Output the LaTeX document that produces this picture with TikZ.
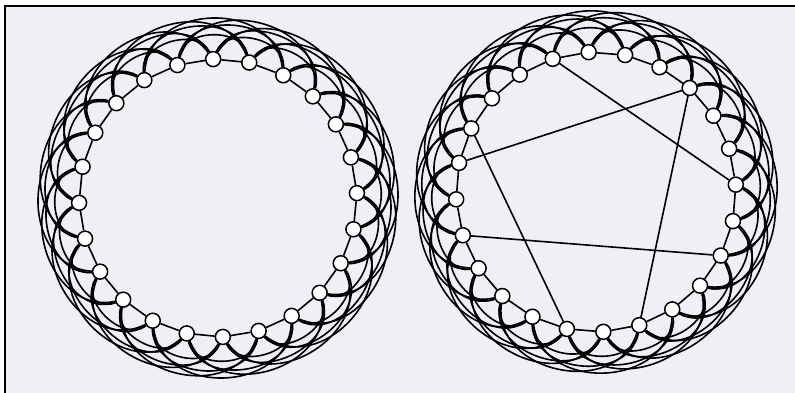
\documentclass[tikz,border=0pt]{standalone}
\usetikzlibrary{backgrounds}
\definecolor{paper}{RGB}{239,239,246}
\begin{document}
\begin{tikzpicture}[x=1pt,y=1pt,
  vtx/.style={circle,draw,fill=white,line width=1.5pt,minimum size=15pt,inner sep=0pt},
  ring/.style={line width=1.6pt},
  chord/.style={line width=1.6pt},
  frameline/.style={line width=2pt}]
\useasboundingbox (0,0) rectangle (795,393);
% vertices
\foreach \j in {0,...,23}{
  \node[vtx] (L\j) at ([shift={(218,195)}]{92-15*\j}:139) {};
  \node[vtx] (R\j) at ([shift={(596,201)}]{108-15*\j}:140) {};
}
\begin{scope}[on background layer]
\fill[paper] (5,0) rectangle (795,387);
\draw[frameline] (5,0) -- (5,387) -- (795,387);
\foreach \j in {0,...,23}{
  \pgfmathtruncatemacro\a{mod(\j+1,24)}
  \pgfmathtruncatemacro\b{mod(\j+2,24)}
  \pgfmathtruncatemacro\c{mod(\j+3,24)}
  \pgfmathtruncatemacro\d{mod(\j+4,24)}
  \foreach \g in {L,R}{
    \draw[ring] (\g\j) -- (\g\a);
    \draw[ring] (\g\j) to[bend left=80,looseness=1.05] (\g\b);
    \draw[ring] (\g\j) to[bend left=85,looseness=1.2] (\g\c);
    \draw[ring] (\g\j) to[bend left=85,looseness=1.28] (\g\d);
  }
}
\draw[chord] (R0) -- (R7);
\draw[chord] (R4) -- (R20);
\draw[chord] (R4) -- (R12);
\draw[chord] (R21) -- (R14);
\draw[chord] (R18) -- (R9);
\end{scope}
\end{tikzpicture}
\end{document}
